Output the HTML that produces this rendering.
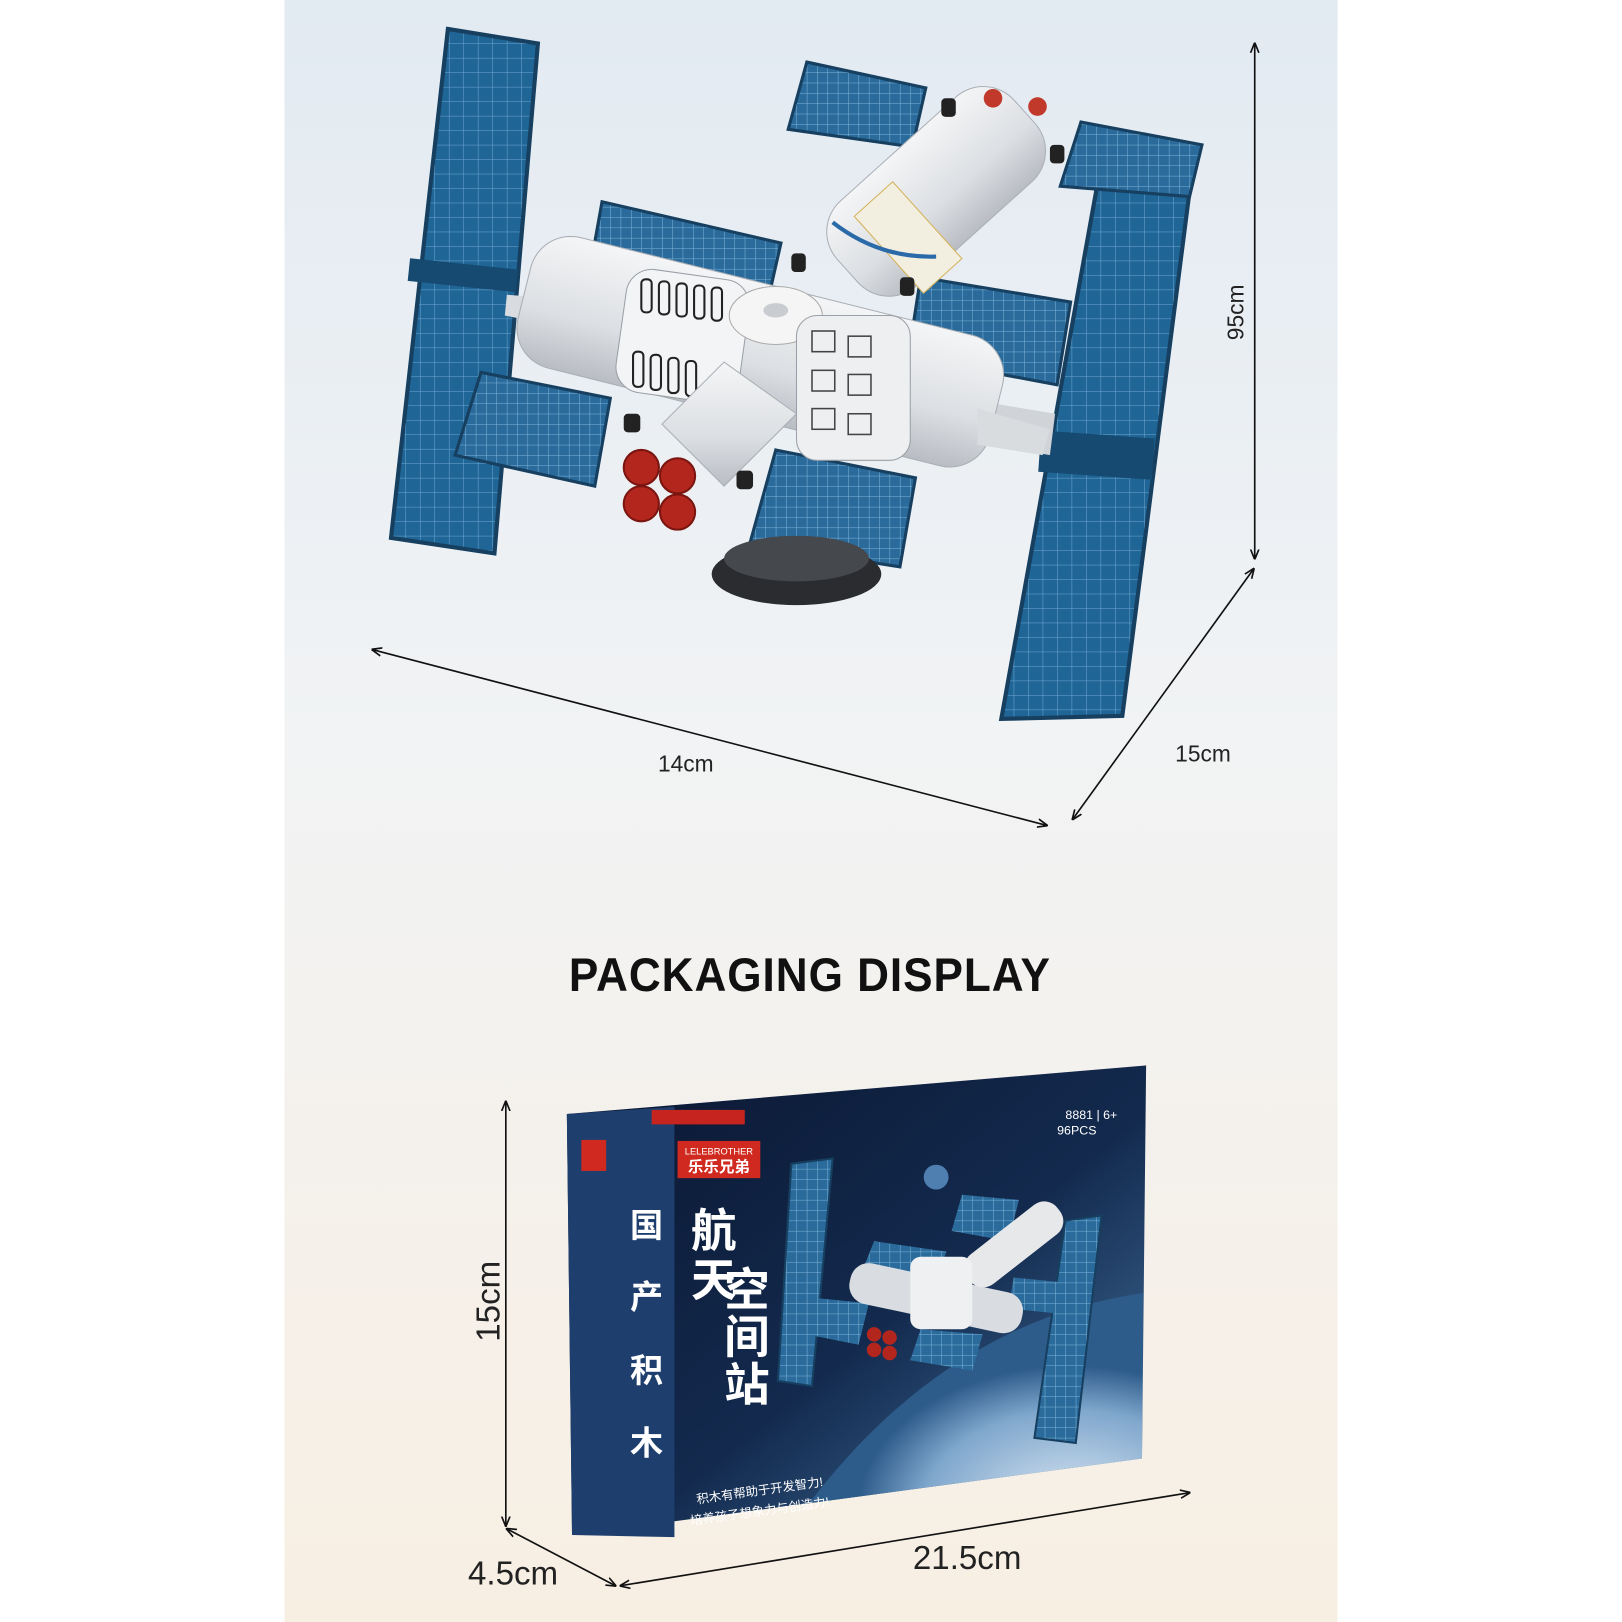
<!DOCTYPE html>
<html><head><meta charset="utf-8"><style>
html,body{margin:0;padding:0;background:#fff}
svg{display:block}
text{font-family:"Liberation Sans","Noto Sans CJK SC",sans-serif}
</style></head><body>
<svg width="1622" height="1622" viewBox="0 0 1622 1622" xmlns="http://www.w3.org/2000/svg">
<defs>
<linearGradient id="bg" x1="0" y1="0" x2="0" y2="1">
<stop offset="0" stop-color="#e2eaf2"/><stop offset="0.45" stop-color="#f1f3f4"/><stop offset="1" stop-color="#f8efe3"/>
</linearGradient>
<pattern id="grid" width="14" height="14" patternUnits="userSpaceOnUse">
<rect width="14" height="14" fill="#1f6596"/>
<path d="M0 0H14M0 0V14" stroke="#6fa7d2" stroke-width="1"/>
</pattern>
<pattern id="grid2" width="10" height="10" patternUnits="userSpaceOnUse">
<rect width="10" height="10" fill="#2a6b9b"/>
<path d="M0 0H10M0 0V10" stroke="#7fb3da" stroke-width="1"/>
</pattern>
<linearGradient id="mod" x1="0" y1="0" x2="0" y2="1">
<stop offset="0" stop-color="#f4f5f6"/><stop offset="0.6" stop-color="#dcdfe3"/><stop offset="1" stop-color="#b9bdc3"/>
</linearGradient>
<linearGradient id="front" x1="0" y1="0" x2="1" y2="1">
<stop offset="0" stop-color="#0a1630"/><stop offset="0.55" stop-color="#132a4e"/><stop offset="1" stop-color="#4a7ba8"/>
</linearGradient>
<radialGradient id="earth" cx="0.8" cy="0.9" r="0.6">
<stop offset="0" stop-color="#dfeaf5"/><stop offset="0.7" stop-color="#7ea6cc"/><stop offset="1" stop-color="#2d5b8a"/>
</radialGradient>
<clipPath id="boxclip"><polygon points="548,1077 1108,1030 1104,1410 553,1484"/></clipPath>
<marker id="ar" viewBox="0 0 10 10" refX="9" refY="5" markerWidth="10" markerHeight="10" orient="auto-start-reverse" markerUnits="userSpaceOnUse">
<path d="M0 1L10 5L0 9" fill="none" stroke="#111" stroke-width="1.6"/>
</marker>
</defs>
<g transform="scale(1.0344)">
<rect x="275" y="0" width="1018" height="1570" fill="url(#bg)"/>

<g>
<polygon points="433,28 520,42 478,535 378,520" fill="url(#grid)" stroke="#163f60" stroke-width="4"/>
<polygon points="1062,172 1150,185 1085,692 968,695" fill="url(#grid)" stroke="#163f60" stroke-width="4"/>
<rect x="395" y="255" width="105" height="22" fill="#174a70" transform="rotate(6 447 266)"/>
<rect x="1005" y="420" width="110" height="40" fill="#174a70" transform="rotate(4 1060 440)"/>
<polygon points="490,285 560,290 560,320 488,305" fill="#d8dbdf"/>
<polygon points="900,380 1020,400 1015,440 900,420" fill="#d0d3d8"/>
<polygon points="780,60 895,85 882,142 762,125" fill="url(#grid2)" stroke="#163f60" stroke-width="3"/>
<polygon points="1045,118 1162,140 1150,190 1025,180" fill="url(#grid2)" stroke="#163f60" stroke-width="3"/>
<polygon points="582,195 755,235 742,292 570,262" fill="url(#grid2)" stroke="#163f60" stroke-width="3"/>
<polygon points="890,268 1035,292 1022,372 878,345" fill="url(#grid2)" stroke="#163f60" stroke-width="3"/>
<polygon points="465,360 590,385 575,470 440,440" fill="url(#grid2)" stroke="#163f60" stroke-width="3"/>
<polygon points="750,435 885,462 870,548 725,525" fill="url(#grid2)" stroke="#163f60" stroke-width="3"/>
<ellipse cx="770" cy="555" rx="82" ry="30" fill="#2a2c30"/>
<ellipse cx="770" cy="540" rx="70" ry="22" fill="#45484d"/>
<rect x="790" y="130" width="230" height="110" rx="40" fill="url(#mod)" stroke="#aab0b7" transform="rotate(-42 905 185)"/>
<rect x="830" y="150" width="50" height="100" fill="#f2eee0" stroke="#d4b25a" transform="rotate(-42 905 185)"/>
<path d="M805 215 Q850 250 905 248" stroke="#2a6aa8" stroke-width="4" fill="none"/>
<circle cx="960" cy="95" r="9" fill="#c0392b"/><circle cx="1003" cy="103" r="9" fill="#c0392b"/>
<rect x="500" y="275" width="470" height="130" rx="40" fill="url(#mod)" stroke="#a9aeb5" transform="rotate(14 735 340)"/>
<polygon points="945,395 1015,415 1008,440 945,430" fill="#d9dcdf"/>
<rect x="600" y="265" width="120" height="120" rx="25" fill="#f3f4f5" stroke="#9aa0a7" transform="rotate(8 660 325)"/>
<g stroke="#222" stroke-width="2" fill="none">
<rect x="620" y="270" width="10" height="32" rx="4"/><rect x="637" y="272" width="10" height="32" rx="4"/><rect x="654" y="274" width="10" height="32" rx="4"/><rect x="671" y="276" width="10" height="32" rx="4"/><rect x="688" y="278" width="10" height="32" rx="4"/>
<rect x="612" y="340" width="10" height="34" rx="4"/><rect x="629" y="343" width="10" height="34" rx="4"/><rect x="646" y="346" width="10" height="34" rx="4"/><rect x="663" y="349" width="10" height="34" rx="4"/>
</g>
<ellipse cx="750" cy="305" rx="45" ry="28" fill="#f5f5f5" stroke="#aaa"/>
<ellipse cx="750" cy="300" rx="12" ry="7" fill="#c9cdd2"/>
<rect x="770" y="305" width="110" height="140" rx="20" fill="#eeeff1" stroke="#9aa0a7"/>
<g stroke="#444" stroke-width="1.5" fill="none">
<rect x="785" y="320" width="22" height="20"/><rect x="820" y="325" width="22" height="20"/>
<rect x="785" y="358" width="22" height="20"/><rect x="820" y="362" width="22" height="20"/>
<rect x="785" y="395" width="22" height="20"/><rect x="820" y="400" width="22" height="20"/>
</g>
<polygon points="640,410 700,350 770,400 700,470" fill="url(#mod)" stroke="#a9aeb5"/>
<g fill="#b3261e" stroke="#7a1510" stroke-width="2">
<circle cx="620" cy="452" r="17"/><circle cx="655" cy="460" r="17"/><circle cx="620" cy="487" r="17"/><circle cx="655" cy="495" r="17"/>
</g>
<g fill="#222"><rect x="603" y="400" width="16" height="18" rx="4"/><rect x="712" y="455" width="16" height="18" rx="4"/><rect x="765" y="245" width="14" height="18" rx="4"/><rect x="910" y="95" width="14" height="18" rx="4"/><rect x="1015" y="140" width="14" height="18" rx="4"/><rect x="870" y="268" width="14" height="18" rx="4"/></g>
</g>

<line x1="360" y1="628" x2="1012" y2="798" stroke="#111" stroke-width="1.6" marker-start="url(#ar)" marker-end="url(#ar)"/>
<line x1="1213" y1="42" x2="1213" y2="540" stroke="#111" stroke-width="1.6" marker-start="url(#ar)" marker-end="url(#ar)"/>
<line x1="1212" y1="550" x2="1037" y2="792" stroke="#111" stroke-width="1.6" marker-start="url(#ar)" marker-end="url(#ar)"/>
<text x="663" y="746" font-size="22" text-anchor="middle" fill="#222">14cm</text>
<text x="1163" y="736" font-size="22" text-anchor="middle" fill="#222">15cm</text>
<text x="0" y="0" font-size="22" text-anchor="middle" fill="#222" transform="translate(1202 302) rotate(-90)">95cm</text>

<text x="783" y="958" font-size="46" font-weight="bold" text-anchor="middle" letter-spacing="1" fill="#111" textLength="466" lengthAdjust="spacingAndGlyphs">PACKAGING DISPLAY</text>

<polygon points="548,1077 1108,1030 1104,1410 553,1484" fill="url(#front)"/>
<path clip-path="url(#boxclip)" d="M760 1484 Q900 1280 1105 1250 L1104 1410 Z" fill="url(#earth)"/>
<polygon points="548,1077 652,1070 652,1486 553,1484" fill="#1e3f6d"/>
<rect x="630" y="1073" width="90" height="14" fill="#c6251f"/>
<rect x="655" y="1103" width="80" height="36" fill="#d02a20"/>
<text x="695" y="1116" font-size="9" fill="#fff" text-anchor="middle">LELEBROTHER</text>
<text x="695" y="1133" font-size="15" font-weight="bold" fill="#fff" text-anchor="middle">乐乐兄弟</text>
<rect x="562" y="1102" width="24" height="30" fill="#d02a20"/>
<g font-size="32" font-weight="bold" fill="#fff" text-anchor="middle">
<text x="625" y="1196">国</text><text x="625" y="1265">产</text><text x="625" y="1336">积</text><text x="625" y="1406">木</text>
</g>
<g font-size="44" font-weight="bold" fill="#fff" text-anchor="middle">
<text x="690" y="1205">航</text><text x="690" y="1253">天</text>
<text x="722" y="1262">空</text><text x="722" y="1308">间</text><text x="722" y="1354">站</text>
</g>
<text x="1030" y="1082" font-size="12" fill="#fff">8881 | 6+</text>
<text x="1022" y="1097" font-size="12" fill="#fff">96PCS</text>
<g font-size="12" fill="#fff" text-anchor="middle">
<text x="735" y="1445" transform="rotate(-8 735 1445)">积木有帮助于开发智力!</text>
<text x="735" y="1465" transform="rotate(-8 735 1465)">培养孩子想象力与创造力!</text>
</g>
<circle cx="905" cy="1138" r="12" fill="#4f7fb0"/>
<polygon points="765,1125 805,1120 785,1340 752,1335" fill="url(#grid2)" stroke="#163f60" stroke-width="2"/>
<polygon points="1030,1180 1065,1175 1040,1395 1000,1390" fill="url(#grid2)" stroke="#163f60" stroke-width="2"/>
<polygon points="930,1155 985,1160 975,1200 920,1190" fill="url(#grid2)"/>
<polygon points="845,1200 915,1210 905,1235 835,1225" fill="url(#grid2)"/>
<polygon points="790,1255 840,1260 830,1300 780,1290" fill="url(#grid2)"/>
<polygon points="890,1285 950,1290 940,1325 880,1315" fill="url(#grid2)"/>
<polygon points="980,1235 1030,1240 1025,1270 975,1265" fill="url(#grid2)"/>
<rect x="820" y="1235" width="170" height="40" rx="18" fill="#d9dce0" transform="rotate(12 905 1255)"/>
<rect x="925" y="1185" width="110" height="36" rx="16" fill="#e6e8ea" transform="rotate(-38 980 1203)"/>
<rect x="880" y="1215" width="60" height="70" rx="10" fill="#eef0f2"/>
<g fill="#b3261e"><circle cx="845" cy="1290" r="7"/><circle cx="860" cy="1293" r="7"/><circle cx="845" cy="1305" r="7"/><circle cx="860" cy="1308" r="7"/></g>

<line x1="489" y1="1065" x2="489" y2="1475" stroke="#111" stroke-width="1.6" marker-start="url(#ar)" marker-end="url(#ar)"/>
<line x1="490" y1="1478" x2="595" y2="1533" stroke="#111" stroke-width="1.6" marker-start="url(#ar)" marker-end="url(#ar)"/>
<line x1="600" y1="1533" x2="1150" y2="1443" stroke="#111" stroke-width="1.6" marker-start="url(#ar)" marker-end="url(#ar)"/>
<text x="0" y="0" font-size="32" text-anchor="middle" fill="#222" transform="translate(483 1258) rotate(-90)">15cm</text>
<text x="496" y="1532" font-size="32" text-anchor="middle" fill="#222">4.5cm</text>
<text x="935" y="1517" font-size="32" text-anchor="middle" fill="#222">21.5cm</text>
</g>
</svg>
</body></html>
